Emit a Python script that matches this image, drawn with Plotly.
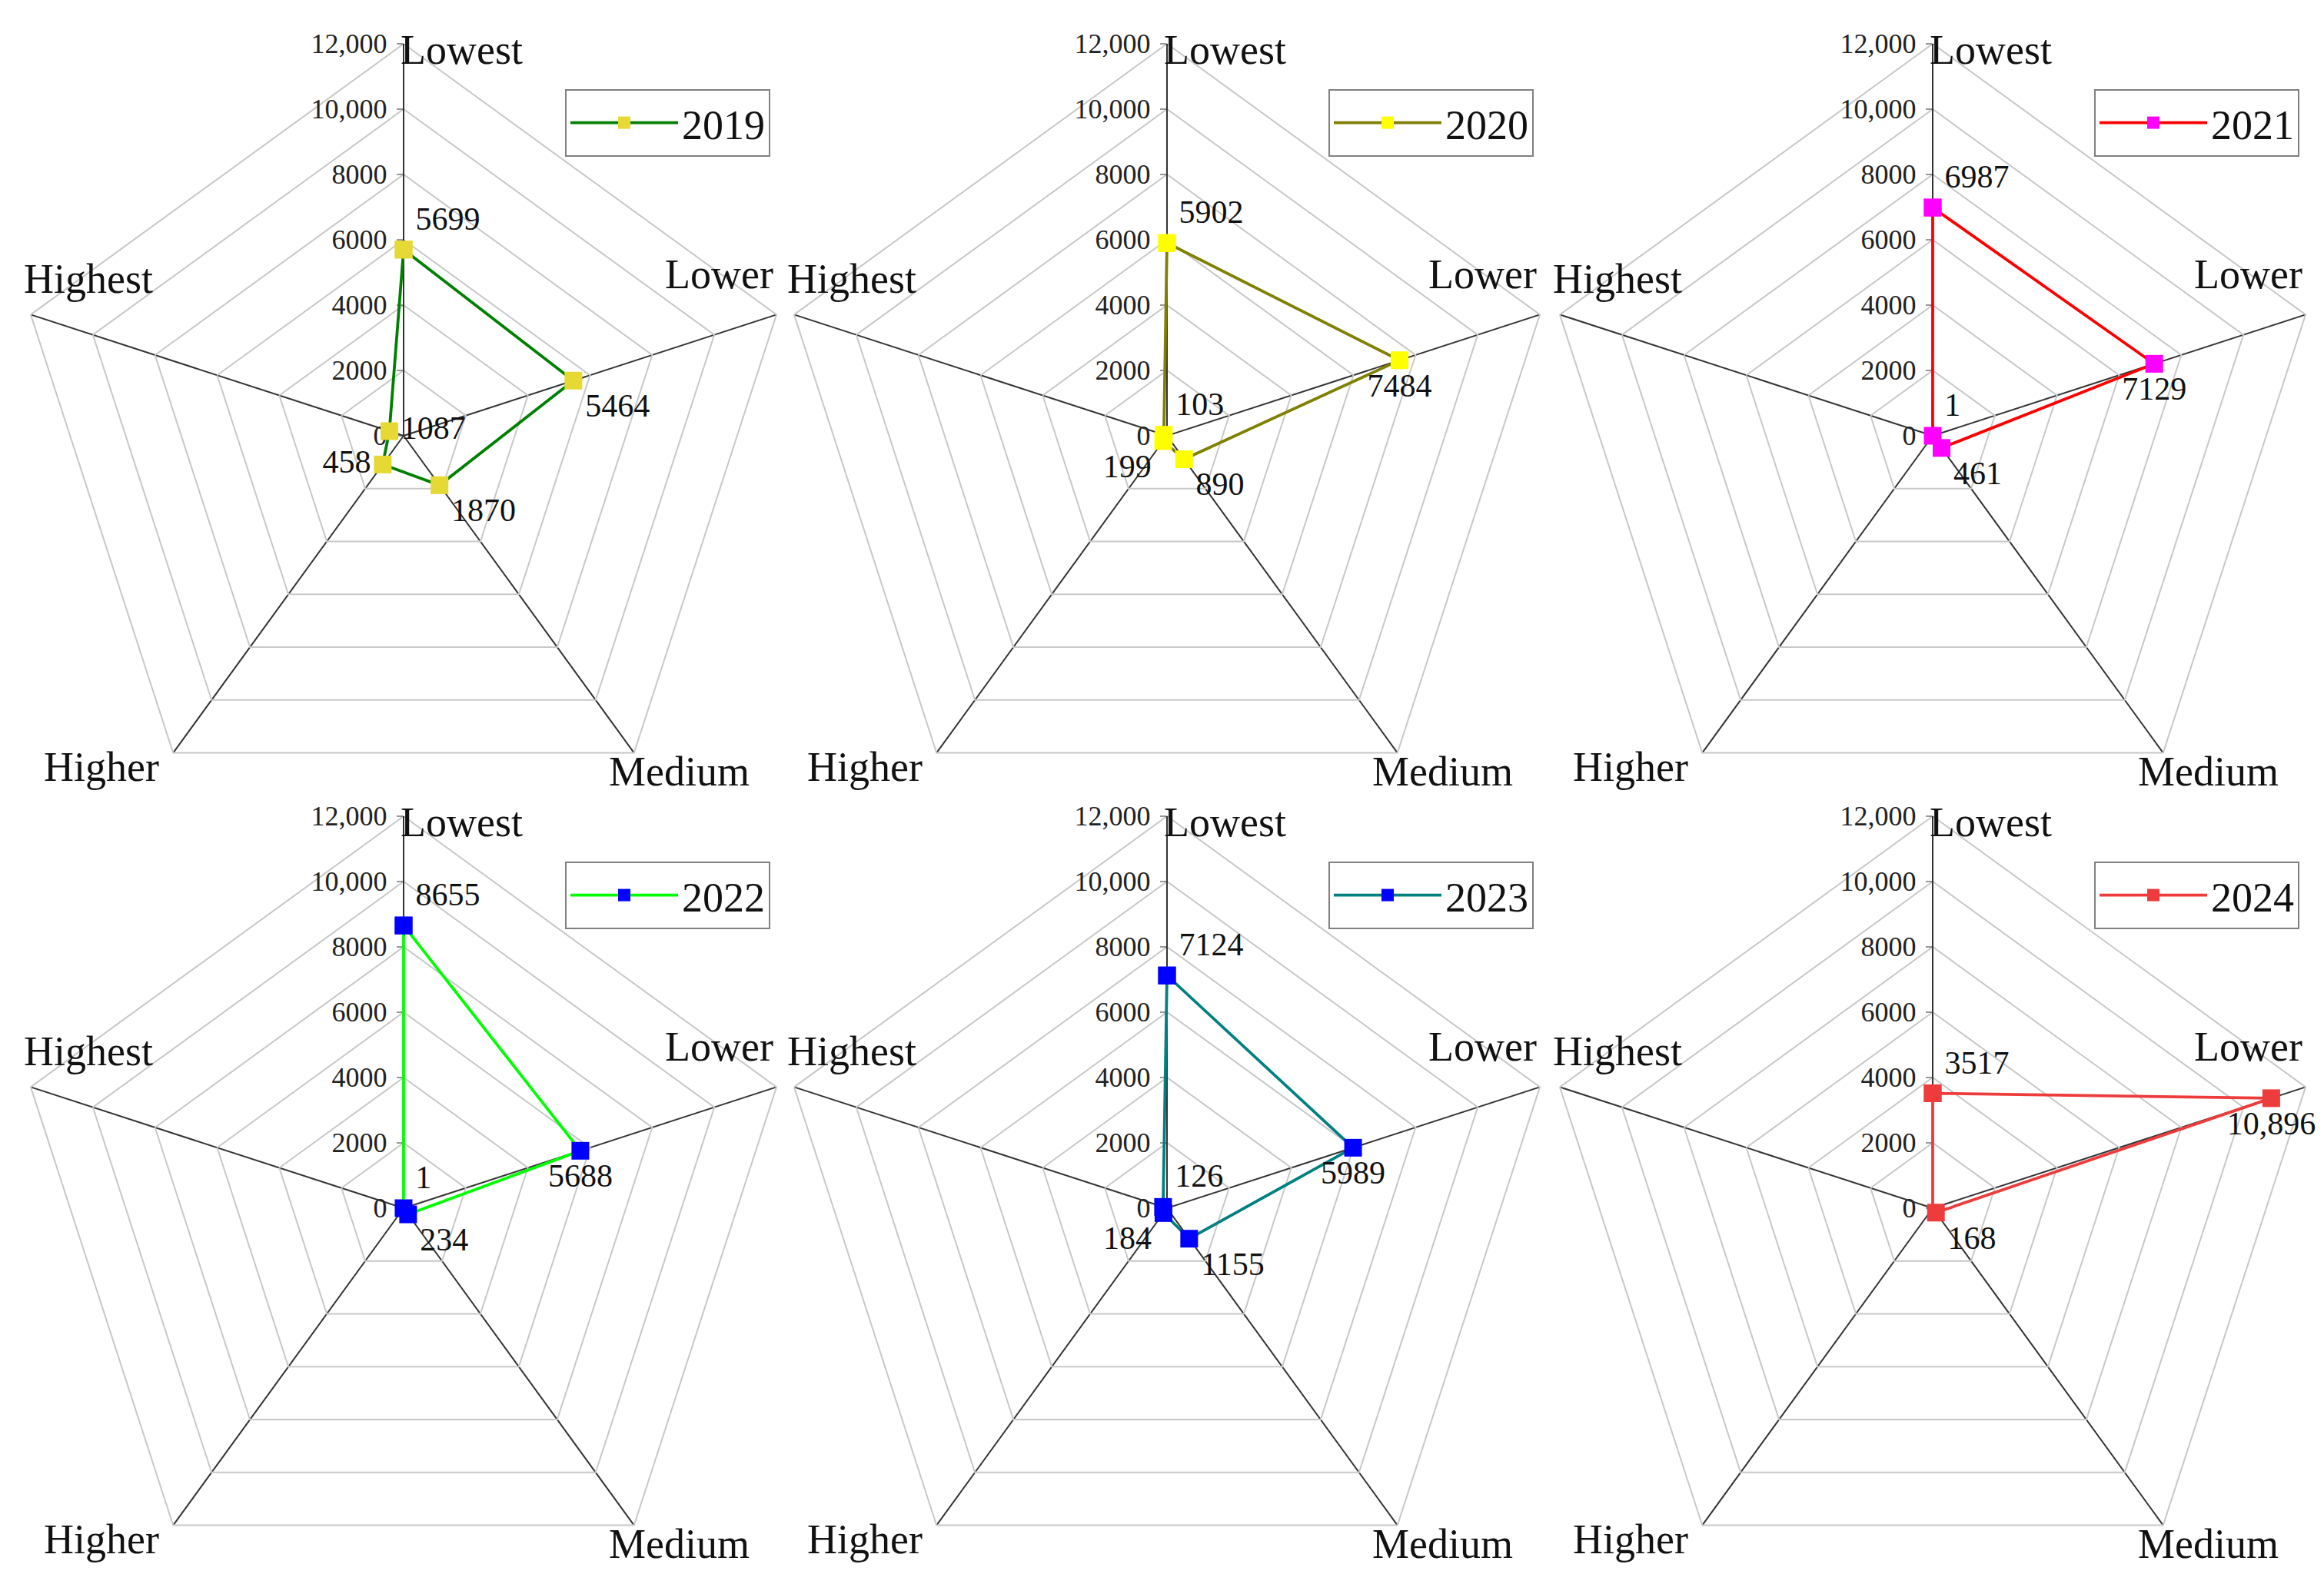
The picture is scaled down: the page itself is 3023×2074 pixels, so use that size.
import math
import plotly.graph_objects as go

W, H = 3023, 2074

CATEGORIES = ["Lowest", "Lower", "Medium", "Higher", "Highest"]
YEARS = ["2019", "2020", "2021", "2022", "2023", "2024"]

V2019 = [5699, 5464, 1870, 1087, 458]
V2020 = [5902, 7484, 890, 199, 103]
V2021 = [6987, 7129, 461, 0, 1]
V2022 = [8655, 5688, 234, 0, 1]
V2023 = [7124, 5989, 1155, 184, 126]
V2024 = [3517, 10896, 168, 0, 0]

# data-label texts as printed next to the points
L2019 = ["5699", "5464", "1870", "458", "1087"]
L2020 = ["5902", "7484", "890", "199", "103"]
L2021 = ["6987", "7129", "461", "0", "1"]
L2022 = ["8655", "5688", "234", "0", "1"]
L2023 = ["7124", "5989", "1155", "184", "126"]
L2024 = ["3517", "10,896", "168", "0", ""]

TICK_VALS = [0, 2000, 4000, 6000, 8000, 10000, 12000]
TICK_TEXT = ["0", "2000", "4000", "6000", "8000", "10,000", "12,000"]

VALUES = [V2019, V2020, V2021, V2022, V2023, V2024]
LABELS = [L2019, L2020, L2021, L2022, L2023, L2024]

LINE_COLORS = ["#008000", "#808000", "#FF0000", "#00FF00", "#008080", "#EE3B3B"]
MARKER_COLORS = ["#E6D933", "#FFFF00", "#FF00FF", "#0000FF", "#0000FF", "#EE3B3B"]

POS = [
    ["top right", "bottom right", "bottom right", "middle left", "middle right"],
    ["top right", "bottom center", "bottom right", "bottom left", "top right"],
    ["top right", "bottom center", "bottom right", "bottom left", "top right"],
    ["top right", "bottom center", "bottom right", "bottom left", "top right"],
    ["top right", "bottom center", "bottom right", "bottom left", "top right"],
    ["top right", "bottom center", "bottom right", "bottom center", "top right"],
]

FONT = "Liberation Serif"
CX = [517, 1510, 2506]
CY = [559, 1564]
R = 510

fig = go.Figure()
annotations = []

for i in range(6):
    row, col = divmod(i, 3)
    cx, cy = CX[col], CY[row]
    pid = "polar" if i == 0 else f"polar{i+1}"
    lid = "legend" if i == 0 else f"legend{i+1}"
    vals = VALUES[i]
    fig.add_trace(go.Scatterpolar(
        r=vals + [vals[0]],
        theta=CATEGORIES + [CATEGORIES[0]],
        text=LABELS[i] + [""],
        textposition=POS[i] + ["top right"],
        mode="lines+markers+text",
        name=YEARS[i],
        line=dict(color=LINE_COLORS[i], width=3.8),
        marker=dict(symbol="square", size=23, color=MARKER_COLORS[i]),
        textfont=dict(family=FONT, size=42, color="#111"),
        subplot=pid,
        legend=lid,
        cliponaxis=False,
    ))
    dom_x = [(cx - R) / W, (cx + R) / W]
    dom_y = [max(0, 1 - (cy + R) / H), min(1, 1 - (cy - R) / H)]
    fig.update_layout(**{
        pid: dict(
            domain=dict(x=dom_x, y=dom_y),
            gridshape="linear",
            bgcolor="white",
            radialaxis=dict(
                range=[0, 12000], tickvals=TICK_VALS, ticktext=TICK_TEXT,
                angle=90, tickangle=90, side="counterclockwise",
                showline=True, linecolor="#333", linewidth=2,
                gridcolor="#C8C8C8", gridwidth=2,
                ticks="outside", ticklen=8, tickcolor="#333",
                tickfont=dict(family=FONT, size=36, color="#222"),
                layer="below traces",
            ),
            angularaxis=dict(
                categoryorder="array", categoryarray=CATEGORIES,
                direction="clockwise", rotation=90,
                showticklabels=False, ticks="",
                showgrid=True, gridcolor="#333", gridwidth=2,
                showline=True, linecolor="#C8C8C8", linewidth=2,
                layer="below traces",
            ),
        ),
        lid: dict(
            x=(cx + 210) / W, y=1 - (cy - 451) / H,
            xanchor="left", yanchor="top",
            bgcolor="white", bordercolor="#808080", borderwidth=2,
            font=dict(family=FONT, size=54, color="#111"),
            itemwidth=140, tracegroupgap=0,
        ),
    })
    # category labels around the pentagon
    specs = [
        ("left", "top", -6, -24),
        ("right", "bottom", -2, -20),
        ("left", "top", -35, -8),
        ("right", "top", -16, -14),
        ("left", "bottom", -11, -14),
    ]
    for k, cat in enumerate(CATEGORIES):
        ang = math.radians(72 * k)
        vx = cx + R * math.sin(ang)
        vy = cy - R * math.cos(ang)
        xa, ya, dx, dy = specs[k]
        annotations.append(dict(
            x=(vx + dx) / W, y=1 - (vy + dy) / H, xref="paper", yref="paper",
            text=cat, showarrow=False, xanchor=xa, yanchor=ya,
            font=dict(family=FONT, size=54, color="#111"),
        ))

fig.update_layout(
    width=W, height=H,
    margin=dict(l=0, r=0, t=0, b=0),
    paper_bgcolor="white",
    annotations=annotations,
    showlegend=True,
)

fig.write_html("out.html")
